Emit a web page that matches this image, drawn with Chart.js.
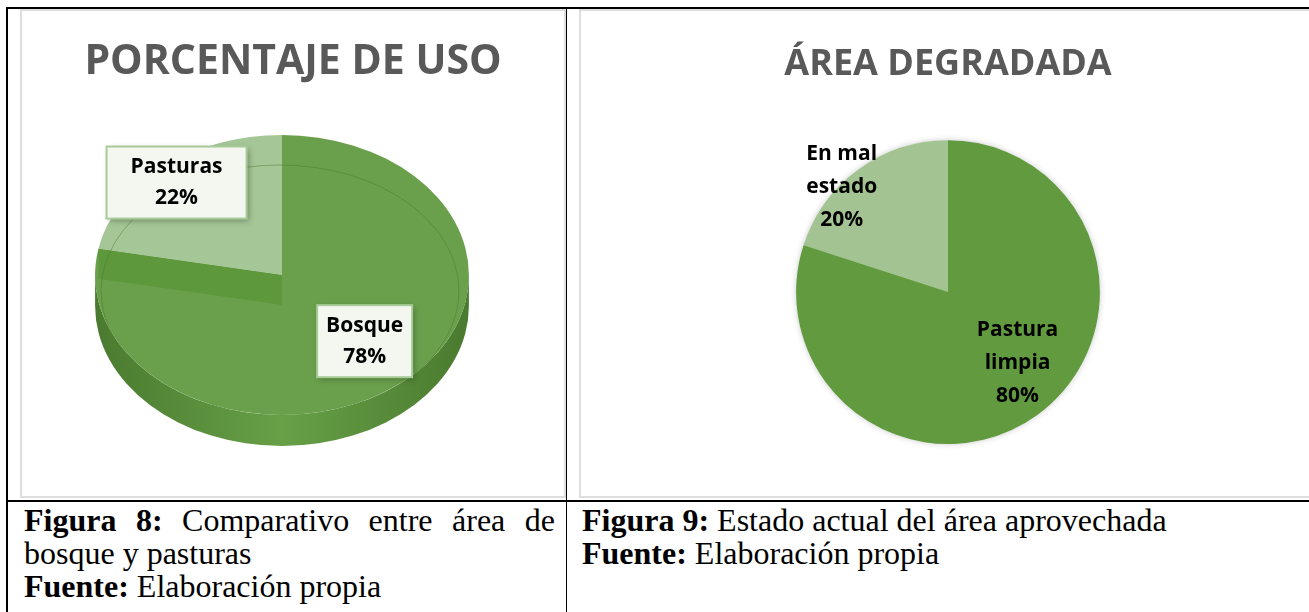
<!DOCTYPE html>
<html>
<head>
<meta charset="utf-8">
<script src="https://cdn.jsdelivr.net/npm/chart.js@4.4.1/dist/chart.umd.min.js"></script>
<style>
  body { margin: 0; background: #fff; width: 1309px; height: 612px; overflow: hidden; position: relative; font-family: "Liberation Serif", "Times New Roman", serif; }
  .frame { position: absolute; border: 2px solid #dedede; box-sizing: border-box; background: #fff; overflow: hidden; }
  .frame canvas { display: block; }
  .rule { position: absolute; background: #000; }
  .cap { position: absolute; font-size: 32px; line-height: 33px; color: #000; white-space: nowrap; }
</style>
</head>
<body>
<div class="frame" style="left:20px;top:9px;width:546px;height:489px"><canvas id="usoChart" width="542" height="485"></canvas></div>
<div class="frame" style="left:579px;top:9px;width:738px;height:489px"><canvas id="estadoChart" width="734" height="485"></canvas></div>

<div class="rule" style="left:6px;top:7px;width:1303px;height:2px"></div>
<div class="rule" style="left:6px;top:7px;width:2px;height:605px"></div>
<div class="rule" style="left:566px;top:7px;width:1px;height:605px"></div>
<div class="rule" style="left:6px;top:500px;width:1303px;height:2px"></div>

<div class="cap" style="left:24px;top:504px;width:531px">
  <div style="text-align:justify;text-align-last:justify"><b>Figura 8:</b> Comparativo entre área de</div>
  <div>bosque y pasturas</div>
  <div><b>Fuente:</b> Elaboración propia</div>
</div>
<div class="cap" style="left:582px;top:504px">
  <div><b>Figura 9:</b> Estado actual del área aprovechada</div>
  <div><b>Fuente:</b> Elaboración propia</div>
</div>

<script>
// Figura 8 - porcentaje de uso
const usoLabels = ['Bosque', 'Pasturas'];
const usoValues = [78, 22];
const usoColors = ['#6aa04c', '#a5c797'];

// Figura 9 - area degradada
const estadoLabels = [['Pastura', 'limpia'], ['En mal', 'estado']];
const estadoValues = [80, 20];
const estadoColors = ['#629b3f', '#a3c492'];

// squashes the pie into an ellipse and adds a side wall (3D look)
const pie3d = {
    id: 'pie3d',
    beforeDatasetsDraw(chart, args, opts) {
        const ctx = chart.ctx;
        const arc = chart.getDatasetMeta(0).data[0];
        const r = arc.outerRadius, ry = r * opts.squash;
        const cx = opts.centerX, top = opts.centerY;

        const grad = ctx.createLinearGradient(cx - r, 0, cx + r, 0);
        grad.addColorStop(0, '#4a7a2f');
        grad.addColorStop(0.5, '#67a047');
        grad.addColorStop(1, '#4a7a2f');
        ctx.save();
        ctx.fillStyle = grad;
        ctx.beginPath();
        ctx.ellipse(cx, top + opts.depth, r, ry, 0, 0, Math.PI);
        ctx.lineTo(cx - r, top);
        ctx.ellipse(cx, top, r, ry, 0, Math.PI, 0, true);
        ctx.closePath();
        ctx.fill();
        ctx.restore();

        ctx.save();
        ctx.translate(cx, top);
        ctx.scale(1, opts.squash);
        ctx.translate(-arc.x, -arc.y);
    },
    afterDatasetsDraw(chart, args, opts) {
        const ctx = chart.ctx;
        ctx.restore();
        const arc = chart.getDatasetMeta(0).data[0];
        const r = arc.outerRadius, ry = r * opts.squash;
        const cx = opts.centerX, top = opts.centerY;
        const ex = cx + Math.cos(arc.endAngle) * r;
        const ey = top + Math.sin(arc.endAngle) * ry;

        ctx.save();
        ctx.beginPath();
        ctx.ellipse(cx, top, r, ry, 0, 0, Math.PI * 2);
        ctx.clip();
        ctx.fillStyle = '#5e983d';
        ctx.beginPath();
        ctx.moveTo(cx, top);
        ctx.lineTo(ex, ey);
        ctx.lineTo(ex, ey + opts.band);
        ctx.lineTo(cx, top + opts.band);
        ctx.closePath();
        ctx.fill();
        // thin bevel line on the top face
        ctx.strokeStyle = 'rgba(70, 120, 40, 0.45)';
        ctx.lineWidth = 1;
        ctx.beginPath();
        ctx.ellipse(cx - 2, top + 16, r - 8, ry - 14, 0, 0, Math.PI * 2);
        ctx.stroke();
        ctx.restore();
    }
};

// soft shadow behind a flat pie
const pieShadow = {
    id: 'pieShadow',
    beforeDatasetsDraw(chart) {
        const ctx = chart.ctx;
        const arc = chart.getDatasetMeta(0).data[0];
        ctx.save();
        ctx.shadowColor = 'rgba(0, 0, 0, 0.28)';
        ctx.shadowBlur = 7;
        ctx.fillStyle = '#629b3f';
        ctx.beginPath();
        ctx.arc(arc.x, arc.y, arc.outerRadius - 1, 0, Math.PI * 2);
        ctx.fill();
        ctx.restore();
    }
};

// category + percentage labels
const sliceLabels = {
    id: 'sliceLabels',
    afterDraw(chart, args, opts) {
        const ctx = chart.ctx;
        const meta = chart.getDatasetMeta(0);
        const values = chart.data.datasets[0].data;
        const total = values.reduce((s, v) => s + v, 0);
        const squash = opts.squash || 1;
        meta.data.forEach((arc, i) => {
            const mid = (arc.startAngle + arc.endAngle) / 2;
            const rr = arc.outerRadius * opts.radius[i];
            const cx = opts.centerX !== undefined ? opts.centerX : arc.x;
            const cy = opts.centerY !== undefined ? opts.centerY : arc.y;
            const x = cx + Math.cos(mid) * rr + opts.shiftX[i];
            const y = cy + Math.sin(mid) * rr * squash + opts.shiftY[i];
            const label = chart.data.labels[i];
            const lines = (Array.isArray(label) ? label : [label]).concat(Math.round(values[i] / total * 100) + '%');
            const h = lines.length * opts.lineHeight;
            ctx.save();
            if (opts.boxWidth) {
                const w = opts.boxWidth[i], bh = h + opts.boxPad * 2;
                ctx.shadowColor = 'rgba(0, 0, 0, 0.3)';
                ctx.shadowBlur = 6;
                ctx.shadowOffsetX = 2;
                ctx.shadowOffsetY = 2;
                ctx.fillStyle = '#f3f7f0';
                ctx.fillRect(x - w / 2, y - bh / 2, w, bh);
                ctx.shadowColor = 'transparent';
                ctx.strokeStyle = '#a8cc97';
                ctx.lineWidth = 2;
                ctx.strokeRect(x - w / 2, y - bh / 2, w, bh);
            }
            ctx.fillStyle = '#000';
            ctx.font = 'bold 21px "Open Sans"';
            ctx.textAlign = 'center';
            ctx.textBaseline = 'middle';
            lines.forEach((t, j) => ctx.fillText(t, x, y - h / 2 + opts.lineHeight * (j + 0.5)));
            ctx.restore();
        });
    }
};

function drawCharts() {
    new Chart(document.getElementById('usoChart'), {
        type: 'pie',
        data: {
            labels: usoLabels,
            datasets: [{ data: usoValues, backgroundColor: usoColors, borderWidth: 0, clip: false }]
        },
        options: {
            responsive: false,
            animation: false,
            layout: { padding: { top: 0, right: 0, bottom: 31, left: 0 } },
            plugins: {
                legend: { display: false },
                tooltip: { enabled: false },
                title: {
                    display: true,
                    text: 'PORCENTAJE DE USO',
                    color: '#595959',
                    font: { family: 'Open Sans', size: 41, weight: 'bold', lineHeight: 1.2 },
                    padding: { top: 27, bottom: 4 }
                },
                pie3d: { squash: 0.749, centerX: 260, centerY: 264, depth: 31, band: 30 },
                sliceLabels: {
                    squash: 0.749, centerX: 260, centerY: 264,
                    radius: [0.66, 0.885], shiftX: [4, 0], shiftY: [-5, 3],
                    lineHeight: 31, boxWidth: [95, 140], boxPad: 5
                }
            }
        },
        plugins: [pie3d, sliceLabels]
    });

    new Chart(document.getElementById('estadoChart'), {
        type: 'pie',
        data: {
            labels: estadoLabels,
            datasets: [{ data: estadoValues, backgroundColor: estadoColors, borderWidth: 0 }]
        },
        options: {
            responsive: false,
            animation: false,
            layout: { padding: { top: 0, right: 0, bottom: 52, left: 0 } },
            plugins: {
                legend: { display: false },
                tooltip: { enabled: false },
                title: {
                    display: true,
                    text: 'ÁREA DEGRADADA',
                    color: '#595959',
                    font: { family: 'Open Sans', size: 36, weight: 'bold', lineHeight: 1.2 },
                    padding: { top: 32, bottom: 54 }
                },
                sliceLabels: {
                    radius: [0.6, 1.0], shiftX: [16, -17], shiftY: [-3, 18],
                    lineHeight: 33
                }
            }
        },
        plugins: [pieShadow, sliceLabels]
    });
}

Promise.all([
    document.fonts.load('bold 41px "Open Sans"'),
    document.fonts.load('bold 21px "Open Sans"')
]).then(drawCharts, drawCharts);
</script>
</body>
</html>
